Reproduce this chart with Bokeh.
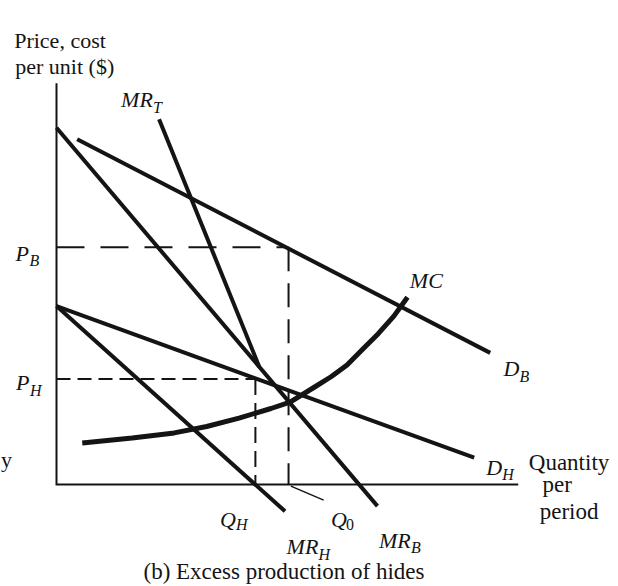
from bokeh.plotting import figure
from bokeh.models import Range1d
from bokeh.core.properties import value
from bokeh.embed import file_html
from bokeh.resources import INLINE

# ---------------- data (quantity, price) ----------------
q_axis_end = 11.84
p_axis_end = 10.03

db_q = [0.53, 11.12]          # demand for beef D_B
db_p = [8.63, 3.29]
mrb_q = [0.00, 8.23]          # marginal revenue beef MR_B
mrb_p = [8.92, -0.54]
dh_q = [0.00, 10.71]          # demand for hides D_H
dh_p = [4.46, 0.67]
mrh_q = [0.00, 5.86]          # marginal revenue hides MR_H
mrh_p = [4.46, -0.67]
mrt_q = [2.63, 5.20]          # total marginal revenue MR_T (upper branch)
mrt_p = [9.13, 2.94]
mc_q = [0.66, 1.94, 3.02, 3.85, 4.68, 5.50, 5.99, 6.64, 7.05, 7.45, 7.85, 8.25, 8.65, 9.00]
mc_p = [1.04, 1.16, 1.29, 1.45, 1.66, 1.90, 2.06, 2.45, 2.70, 2.99, 3.38, 3.77, 4.21, 4.68]

P_B = 5.93
P_H = 2.64
Q_H = 5.10
Q_0 = 5.95
q0_leader_q = [6.01, 6.85]
q0_leader_p = [-0.04, -0.39]

# ---------------- figure ----------------
INK = "#141414"
PX_X, PX_Y = 39.0, 40.0          # pixels per data unit
W, H = 616, 584
ox, oy = 56, 484                  # screen position of the origin
x0 = -ox / PX_X
y1 = oy / PX_Y
p = figure(width=W, height=H, output_backend="svg", toolbar_location=None,
           x_range=Range1d(x0, x0 + W / PX_X), y_range=Range1d(y1 - H / PX_Y, y1),
           x_axis_type=None, y_axis_type=None, min_border=0)
p.outline_line_color = None
p.background_fill_color = "white"
p.border_fill_color = "white"

# axes
p.line([0, 0, q_axis_end], [p_axis_end, 0, 0], line_width=2, color=INK, line_join="miter")

# dashed guides
p.line([0, Q_0], [P_B, P_B], line_width=2, color=INK, line_dash="28 16")
p.line([Q_0, Q_0], [P_B, 0], line_width=2, color=INK, line_dash="24 12")
p.line([0, Q_H], [P_H, P_H], line_width=2, color=INK, line_dash="14 7")
p.line([Q_H, Q_H], [P_H, 0], line_width=2, color=INK, line_dash="16 8")
p.line(q0_leader_q, q0_leader_p, line_width=1.5, color=INK)

# curves
p.line(db_q, db_p, line_width=4, color=INK)
p.line(mrb_q, mrb_p, line_width=4, color=INK)
p.line(dh_q, dh_p, line_width=4, color=INK)
p.line(mrh_q, mrh_p, line_width=4, color=INK)
p.line(mrt_q, mrt_p, line_width=4, color=INK)
p.line(mc_q, mc_p, line_width=5, color=INK, line_join="round")

# ---------------- labels ----------------
FONT = value("Liberation Serif")

def txt(xs, ys, texts, size, style="normal"):
    p.text(x=xs, y=ys, text=texts, text_font=FONT, text_font_size=value(size),
           text_font_style=style, text_baseline="alphabetic", text_align="left",
           text_color=INK)

# upright texts
txt([-1.085, -1.057], [11.09, 10.44], ["Price, cost", "per unit ($)"], "22px")
txt([12.11, 12.46, 12.39], [0.554, -0.0065, -0.685], ["Quantity", "per", "period"], "23px")
txt([2.23], [-2.175], ["(b) Excess production of hides"], "23px")
txt([-1.42], [0.62], ["y"], "22px")

# italic symbols with subscripts: (main, sub, x, y, main width px, drop px)
symbols = [
    ("MR", "T", 1.657, 9.63, 32, 8),
    ("MC", "", 9.06, 5.10, 33, 0),
    ("P", "B", -1.053, 5.785, 14, 7),
    ("P", "H", -1.038, 2.557, 14, 8),
    ("D", "B", 11.46, 2.90, 16, 8),
    ("D", "H", 11.02, 0.431, 16, 7),
    ("Q", "H", 4.19, -0.87, 16, 5),
    ("Q", "0", 7.04, -0.87, 15, 5),
    ("MR", "H", 5.90, -1.545, 32, 8),
    ("MR", "B", 8.27, -1.39, 32, 7),
]
txt([s[2] for s in symbols], [s[3] for s in symbols], [s[0] for s in symbols], "22px", "italic")
subs = [s for s in symbols if s[1] and s[1] != "0"]
txt([s[2] + s[4] / PX_X for s in subs], [s[3] - s[5] / PX_Y for s in subs],
    [s[1] for s in subs], "16px", "italic")
digits = [s for s in symbols if s[1] == "0"]
txt([s[2] + s[4] / PX_X for s in digits], [s[3] - s[5] / PX_Y for s in digits],
    [s[1] for s in digits], "16px")

open("out.html", "w").write(file_html(p, INLINE))
